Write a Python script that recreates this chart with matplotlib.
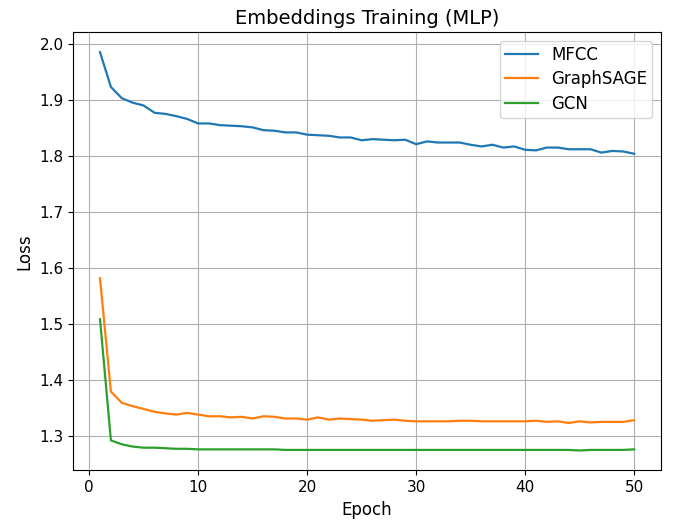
import matplotlib
matplotlib.use("Agg")
import matplotlib.pyplot as plt

epochs = list(range(1, 51))
mfcc = [1.985, 1.923, 1.903, 1.895, 1.890, 1.877, 1.875, 1.871, 1.866, 1.858,
        1.858, 1.855, 1.854, 1.853, 1.851, 1.846, 1.845, 1.842, 1.842, 1.838,
        1.837, 1.836, 1.833, 1.833, 1.828, 1.830, 1.829, 1.828, 1.829, 1.821,
        1.826, 1.824, 1.824, 1.824, 1.820, 1.817, 1.820, 1.815, 1.817, 1.811,
        1.810, 1.815, 1.815, 1.812, 1.812, 1.812, 1.806, 1.809, 1.808, 1.804]
graphsage = [1.582, 1.380, 1.360, 1.354, 1.349, 1.344, 1.341, 1.339, 1.342, 1.339,
             1.336, 1.336, 1.334, 1.335, 1.332, 1.336, 1.335, 1.332, 1.332, 1.330,
             1.334, 1.330, 1.332, 1.331, 1.330, 1.328, 1.329, 1.330, 1.328, 1.327,
             1.327, 1.327, 1.327, 1.328, 1.328, 1.327, 1.327, 1.327, 1.327, 1.327,
             1.328, 1.326, 1.327, 1.324, 1.327, 1.325, 1.326, 1.326, 1.326, 1.329]
gcn = [1.509, 1.293, 1.286, 1.282, 1.280, 1.280, 1.279, 1.278, 1.278, 1.277,
       1.277, 1.277, 1.277, 1.277, 1.277, 1.277, 1.277, 1.276, 1.276, 1.276,
       1.276, 1.276, 1.276, 1.276, 1.276, 1.276, 1.276, 1.276, 1.276, 1.276,
       1.276, 1.276, 1.276, 1.276, 1.276, 1.276, 1.276, 1.276, 1.276, 1.276,
       1.276, 1.276, 1.276, 1.276, 1.275, 1.276, 1.276, 1.276, 1.276, 1.277]

fig, ax = plt.subplots(figsize=(6.75, 5.25), dpi=100)
fig.subplots_adjust(left=0.1086, right=0.979, top=0.9385, bottom=0.104)
ax.plot(epochs, mfcc, label="MFCC", linewidth=1.6)
ax.plot(epochs, graphsage, label="GraphSAGE", linewidth=1.6)
ax.plot(epochs, gcn, label="GCN", linewidth=1.6)
ax.set_title("Embeddings Training (MLP)", fontsize=14)
ax.set_xlabel("Epoch", fontsize=12)
ax.set_ylabel("Loss", fontsize=12)
ax.tick_params(labelsize=11)
ax.grid(True)
ax.legend(loc="upper right", fontsize=12, labelspacing=0.4, borderpad=0.3)
fig.savefig("out.png", dpi=100)
